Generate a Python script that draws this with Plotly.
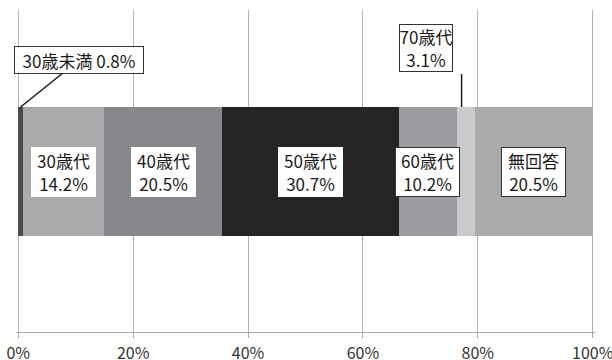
import plotly.graph_objects as go

# Age bracket breakdown (percent of respondents)
categories = ["30歳未満", "30歳代", "40歳代", "50歳代", "60歳代", "70歳代", "無回答"]
values = [0.8, 14.2, 20.5, 30.7, 10.2, 3.1, 20.5]
colors = ["#4b4b4d", "#a9aaac", "#87888b", "#262425", "#9b9c9f", "#c9cacc", "#a9aaac"]
tick_vals = [0, 20, 40, 60, 80, 100]
tick_text = ["0%", "20%", "40%", "60%", "80%", "100%"]

FONT = "Noto Sans CJK JP"
LABEL_SIZE = 17

fig = go.Figure()
for name, val, col in zip(categories, values, colors):
    fig.add_trace(go.Bar(
        x=[val], y=[0], name=name, orientation="h", width=1,
        marker=dict(color=col, line=dict(width=0)),
        hoverinfo="skip", showlegend=False,
    ))

# segment start positions
starts = []
acc = 0.0
for v in values:
    starts.append(acc)
    acc += v

annotations = []
shapes = []

# labels sitting inside the bar
inside = {"30歳代": False, "40歳代": False, "50歳代": False, "60歳代": True, "無回答": True}
for name, val, s in zip(categories, values, starts):
    if name not in inside:
        continue
    annotations.append(dict(
        x=s + val / 2, y=0, xref="x", yref="y",
        text=f"{name}<br>{val:.1f}%", showarrow=False,
        font=dict(family=FONT, size=LABEL_SIZE, color="#1a1a1a"),
        bgcolor="white",
        bordercolor="#333333" if inside[name] else "white",
        borderwidth=1, borderpad=0, width=63, height=48,
    ))

# callout for the smallest group (leader line to the bar top)
i0 = 0
annotations.append(dict(
    x=starts[i0] + values[i0] / 2, y=0.5, xref="x", yref="y",
    text=f"{categories[i0]} {values[i0]:.1f}%",
    showarrow=True, arrowhead=0, arrowwidth=1.5, arrowcolor="#1a1a1a",
    ax=58.5, ay=-47,
    font=dict(family=FONT, size=LABEL_SIZE, color="#1a1a1a"),
    bgcolor="white", bordercolor="#333333", borderwidth=1, borderpad=0,
    width=128, height=26,
))

# callout for the 70s group, placed above the bar with a vertical leader
i5 = 5
lead_x = starts[i5] + values[i5] / 4
shapes.append(dict(
    type="line", xref="x", yref="y",
    x0=lead_x, x1=lead_x, y0=0.5, y1=0.5 + 33 / 129,
    line=dict(color="#1a1a1a", width=1.5), layer="above",
))
annotations.append(dict(
    x=lead_x, y=0.5, xref="x", yref="y",
    xshift=-35.5, yshift=59,
    text=f"{categories[i5]}<br>{values[i5]:.1f}%", showarrow=False,
    font=dict(family=FONT, size=LABEL_SIZE, color="#1a1a1a"),
    bgcolor="white", bordercolor="#333333", borderwidth=1, borderpad=0,
    width=52, height=46,
))

fig.update_layout(
    barmode="stack",
    width=612, height=360,
    margin=dict(l=16, r=17, t=10, b=28),
    paper_bgcolor="white", plot_bgcolor="white",
    annotations=annotations, shapes=shapes,
    xaxis=dict(
        range=[-0.4, 100.4], tickvals=tick_vals, ticktext=tick_text,
        showgrid=True, gridcolor="#b3b3b3", gridwidth=1,
        showline=True, linecolor="#a6a6a6", linewidth=1,
        ticks="outside", ticklen=5, tickcolor="#a6a6a6",
        ticklabelstandoff=2, ticklabeloverflow="allow", automargin=False,
        tickfont=dict(family=FONT, size=16, color="#333333"),
        zeroline=False, fixedrange=True,
    ),
    yaxis=dict(
        range=[-1.244, 1.252], showgrid=False, showline=False,
        showticklabels=False, zeroline=False, ticks="", fixedrange=True,
        automargin=False,
    ),
)

fig.write_html("out.html", config={"displayModeBar": False})
